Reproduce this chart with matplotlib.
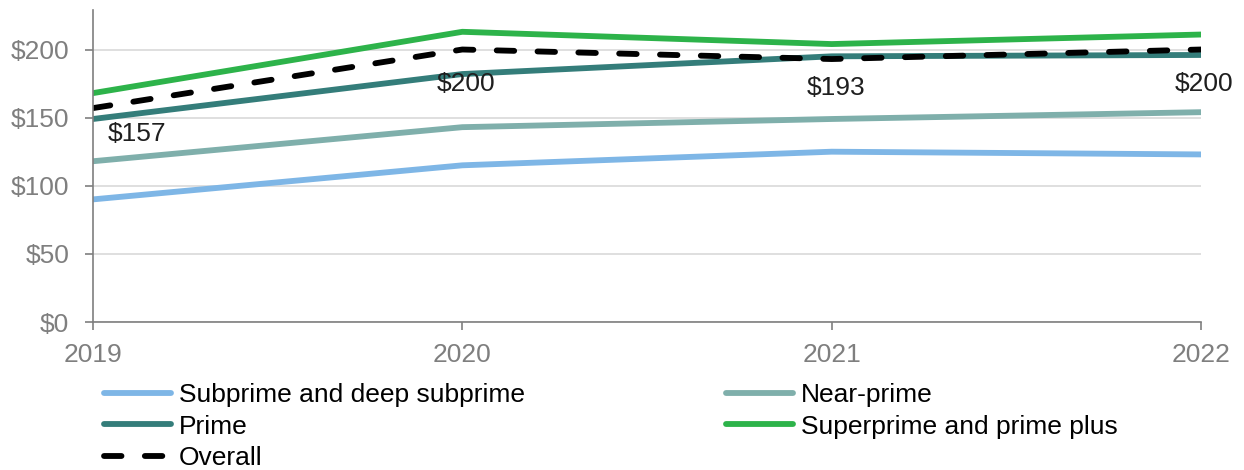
import matplotlib
matplotlib.use("Agg")
import matplotlib.pyplot as plt

plt.rcParams['font.family'] = ['Liberation Sans', 'DejaVu Sans']

years = [2019, 2020, 2021, 2022]
subprime = [90, 115, 125, 123]
near_prime = [118, 143, 149, 154]
prime = [149, 182, 195, 196]
superprime = [168, 213, 204, 211]
overall = [157, 200, 193, 200]
overall_labels = ["$157", "$200", "$193", "$200"]
y_ticks = [0, 50, 100, 150, 200]

fig = plt.figure(figsize=(12.44, 4.70), dpi=100)
ax = fig.add_axes([93/1244, 1 - 322/470, (1201 - 93)/1244, 312/470])

lw = 4.2
ax.plot(years, subprime, color="#7EB6E6", lw=lw, label="Subprime and deep subprime", solid_capstyle="round")
ax.plot(years, near_prime, color="#7FAFAB", lw=lw, label="Near-prime", solid_capstyle="round")
ax.plot(years, prime, color="#347D7A", lw=lw, label="Prime", solid_capstyle="round")
ax.plot(years, superprime, color="#2DB34A", lw=lw, label="Superprime and prime plus", solid_capstyle="round")
ax.plot(years, overall, color="black", lw=lw, ls=(0, (3.0, 4.0)), label="Overall", dash_capstyle="round")

# data labels for the overall series (offsets in points)
offsets = [(32, -19), (3, -25), (3, -20.5), (2, -25)]
for x, y, t, off in zip(years, overall, overall_labels, offsets):
    ax.annotate(t, (x, y), xytext=off, textcoords="offset points", ha="center", va="center",
                fontsize=19, color="#1f1f1f")

ax.set_xlim(2019, 2022)
ax.set_ylim(0, 229)
ax.set_xticks(years)
ax.set_xticklabels([str(y) for y in years])
ax.set_yticks(y_ticks)
ax.set_yticklabels(["$" + str(v) for v in y_ticks])
ax.tick_params(axis="both", colors="#7f7f7f", labelsize=19, length=6, width=1.2)
ax.tick_params(axis="x", pad=9)
ax.tick_params(axis="y", pad=11)
ax.grid(axis="y", color="#d9d9d9", lw=1.2)
ax.set_axisbelow(True)
for s in ["top", "right"]:
    ax.spines[s].set_visible(False)
for s in ["left", "bottom"]:
    ax.spines[s].set_color("#7f7f7f")
    ax.spines[s].set_linewidth(1.2)
ax.spines["bottom"].set_zorder(3)

handles, labels = ax.get_legend_handles_labels()
order = [0, 2, 4, 1, 3]
fig.legend([handles[i] for i in order], [labels[i] for i in order], ncol=2,
           loc="upper left", bbox_to_anchor=(104/1244, 1 - 383/470), frameon=False,
           fontsize=19, handlelength=2.55, handletextpad=0.3, columnspacing=7.6,
           labelspacing=0.29, borderaxespad=0, borderpad=0)

fig.savefig("out.png", dpi=100)
